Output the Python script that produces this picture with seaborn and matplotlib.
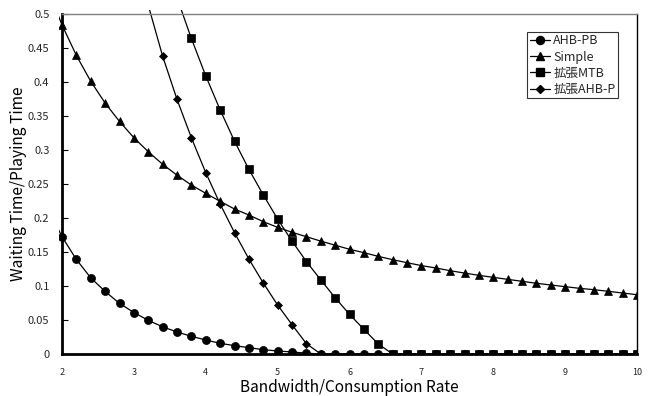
import numpy as np
import pandas as pd
import matplotlib
matplotlib.use("Agg")
import matplotlib.pyplot as plt
from matplotlib.transforms import Bbox, TransformedBbox
from matplotlib.lines import Line2D
import seaborn as sns

# ---- data ----
x_ahb_pb = [1.8, 2.0, 2.2, 2.4, 2.6, 2.8, 3.0, 3.2, 3.4, 3.6, 3.8, 4.0, 4.2, 4.4, 4.6, 4.8,
            5.0, 5.2, 5.4, 5.6, 5.8, 6.0, 6.2, 6.4, 6.6, 6.8, 7.0, 7.2, 7.4, 7.6, 7.8, 8.0,
            8.2, 8.4, 8.6, 8.8, 9.0, 9.2, 9.4, 9.6, 9.8, 10.0]
y_ahb_pb = [0.215, 0.1725, 0.139, 0.112, 0.092, 0.0745, 0.061, 0.0495, 0.040, 0.0324, 0.026,
            0.0206, 0.0157, 0.0123, 0.0093, 0.0064, 0.0044, 0.003, 0.0012, 0, 0, 0, 0, 0, 0,
            0, 0, 0, 0, 0, 0, 0, 0, 0, 0, 0, 0, 0, 0, 0, 0, 0]

x_simple = x_ahb_pb
y_simple = [0.537, 0.484, 0.439, 0.401, 0.369, 0.342, 0.318, 0.2975, 0.279, 0.263, 0.2485,
            0.2363, 0.2245, 0.2132, 0.2044, 0.1946, 0.1863, 0.179, 0.1725, 0.166, 0.160,
            0.154, 0.149, 0.1436, 0.1387, 0.1343, 0.130, 0.1265, 0.1225, 0.119, 0.1157,
            0.1127, 0.1098, 0.1069, 0.104, 0.1015, 0.099, 0.0966, 0.0946, 0.0922, 0.0897,
            0.0872]

x_mtb = [3.6, 3.8, 4.0, 4.2, 4.4, 4.6, 4.8, 5.0, 5.2, 5.4, 5.6, 5.8, 6.0, 6.2, 6.4, 6.6,
         6.8, 7.0, 7.2, 7.4, 7.6, 7.8, 8.0, 8.2, 8.4, 8.6, 8.8, 9.0, 9.2, 9.4, 9.6, 9.8, 10.0]
y_mtb = [0.524, 0.464, 0.409, 0.359, 0.313, 0.2716, 0.234, 0.1985, 0.166, 0.136, 0.109,
         0.0828, 0.0583, 0.0363, 0.0147, 0, 0, 0, 0, 0, 0, 0, 0, 0, 0, 0, 0, 0, 0, 0, 0, 0, 0]

x_ahb_p = [3.2, 3.4, 3.6, 3.8, 4.0, 4.2, 4.4, 4.6, 4.8, 5.0, 5.2, 5.4, 5.6]
y_ahb_p = [0.513, 0.438, 0.3745, 0.318, 0.2667, 0.2206, 0.1785, 0.1397, 0.1044, 0.072,
           0.0431, 0.0152, 0]

series_names = ["AHB-PB", "Simple", "拡張MTB", "拡張AHB-P"]
series_x = [x_ahb_pb, x_simple, x_mtb, x_ahb_p]
series_y = [y_ahb_pb, y_simple, y_mtb, y_ahb_p]

x_ticks = [2, 3, 4, 5, 6, 7, 8, 9, 10]
y_ticks = [0, 0.05, 0.1, 0.15, 0.2, 0.25, 0.3, 0.35, 0.4, 0.45, 0.5]
y_tick_labels = ["0", "0.05", "0.1", "0.15", "0.2", "0.25", "0.3", "0.35", "0.4", "0.45", "0.5"]

xlabel = "Bandwidth/Consumption Rate"
ylabel = "Waiting Time/Playing Time"

# ---- build tidy frame ----
frames = []
for name, xs, ys in zip(series_names, series_x, series_y):
    frames.append(pd.DataFrame({"x": xs, "y": ys, "series": name}))
df = pd.concat(frames, ignore_index=True)

sns.set_theme(style="white")
plt.rcParams["font.family"] = ["Noto Sans CJK JP", "DejaVu Sans"]

fig = plt.figure(figsize=(6.48, 3.96), dpi=100)
ax = fig.add_axes([62 / 648, 1 - 354 / 396, (637 - 62) / 648, (354 - 14) / 396])

markers = {"AHB-PB": "o", "Simple": "^", "拡張MTB": "s", "拡張AHB-P": "D"}
palette = {n: "black" for n in series_names}
sns.lineplot(data=df, x="x", y="y", hue="series", style="series",
             hue_order=series_names, style_order=series_names,
             markers=markers, dashes=False, palette=palette,
             linewidth=0.9, sort=False, estimator=None, ax=ax, legend=False)

msizes = {"o": 5.8, "^": 6.2, "s": 5.4, "D": 3.8}
clip = TransformedBbox(Bbox([[-0.006, 0.0], [1.0, 1.012]]), ax.transAxes)
for ln in ax.lines:
    m = ln.get_marker()
    ln.set_markersize(msizes.get(m, 5))
    ln.set_markeredgewidth(0.5)
    ln.set_markerfacecolor("black")
    ln.set_markeredgecolor("black")
    ln.set_clip_box(clip)

ax.set_xlim(2, 10)
ax.set_ylim(0, 0.5)
ax.set_xticks(x_ticks)
ax.set_xticklabels([str(t) for t in x_ticks])
ax.set_yticks(y_ticks)
ax.set_yticklabels(y_tick_labels)
ax.tick_params(axis="y", direction="in", length=4, width=0.8, color="black",
               labelsize=8, pad=9, left=True)
ax.tick_params(axis="x", length=0, labelsize=6.5, pad=9.8)
ax.grid(False)

for side in ["left", "bottom"]:
    ax.spines[side].set_color("black")
    ax.spines[side].set_linewidth(2.0)
ax.spines["top"].set_color("#808080")
ax.spines["top"].set_linewidth(1.0)
ax.spines["right"].set_color("black")
ax.spines["right"].set_linewidth(1.0)
ax.set_facecolor("white")

ax.set_xlabel(xlabel, fontsize=11.1, color="black", va="center")
ax.xaxis.set_label_coords(0.5, -(387 - 354) / 340)
ax.set_ylabel(ylabel, fontsize=11.2, color="black", va="center")
ax.yaxis.set_label_coords((19 - 62) / 575, 0.5)

handles = [Line2D([0], [0], color="black", lw=0.9, marker=markers[n],
                  markersize=msizes[markers[n]], markerfacecolor="black",
                  markeredgecolor="black") for n in series_names]
leg = fig.legend(handles, series_names, loc="upper left",
                 bbox_to_anchor=(527 / 648, 1 - 32 / 396), fontsize=9,
                 frameon=True, fancybox=False, shadow=False, borderpad=0.2,
                 handlelength=1.6, handletextpad=0.3, labelspacing=0.25,
                 borderaxespad=0)
leg.get_frame().set_edgecolor("black")
leg.get_frame().set_linewidth(0.8)

fig.savefig("out.png", dpi=100, facecolor="white")
